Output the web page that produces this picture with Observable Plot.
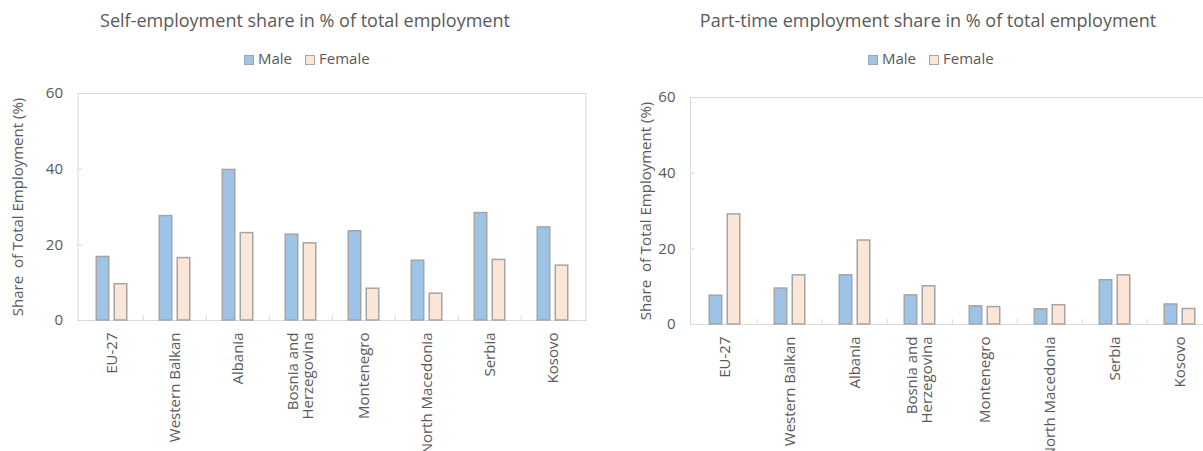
<!DOCTYPE html>
<html>
<head>
<meta charset="utf-8">
<script src="https://cdn.jsdelivr.net/npm/d3@7"></script>
<script src="https://cdn.jsdelivr.net/npm/@observablehq/plot@0.6"></script>
<style>
  html, body { margin: 0; padding: 0; background: #fff; overflow: hidden; }
  #root { position: relative; width: 1203px; height: 451px; overflow: hidden;
          font-family: "Open Sans", sans-serif; color: #595959; }
  .title { position: absolute; top: 11px; font-size: 18px; line-height: 18px;
           white-space: nowrap; transform: translateX(-50%); }
  .sw { position: absolute; top: 55px; width: 8px; height: 8px; border: 1px solid #a5a5a5; box-sizing: content-box; }
  .lt { position: absolute; top: 51px; font-size: 15px; line-height: 15px; white-space: nowrap; }
  .chart { position: absolute; top: 80px; }
  .chart svg { max-width: none !important; }
  svg text { white-space: pre; }
</style>
</head>
<body>
<div id="root"></div>
<script>
// ---- data ----
const countries = ["EU-27", "Western Balkan", "Albania", "Bosnia and\nHerzegovina", "Montenegro", "North Macedonia", "Serbia", "Kosovo"];
const selfMale   = [16.8, 27.6, 39.8, 22.7, 23.6, 15.8, 28.4, 24.6];
const selfFemale = [9.6, 16.5, 23.1, 20.4, 8.4, 7.1, 16.0, 14.5];
const partMale   = [7.6, 9.5, 13.0, 7.7, 4.8, 4.0, 11.7, 5.3];
const partFemale = [29.1, 13.0, 22.2, 10.1, 4.6, 5.1, 13.0, 4.1];
const yTicks = [0, 20, 40, 60];
const seriesNames = ["Male", "Female"];
const titles = ["Self-employment share in % of total employment", "Part-time employment share in % of total employment"];
const yLabel = "Share  of Total Employment (%)";

const colors = {Male: "#9dc3e6", Female: "#fbe5d6"};
const barStroke = "#a5a5a5";
const gridGrey = "#d9d9d9";
const textGrey = "#595959";

function makeChart({male, female, width, ml, mr, mt, mb, labelOffset}) {
  const height = 371;
  const data = countries.map((c, i) => ({country: c, male: male[i], female: female[i]}));
  const bw = (width - ml - mr) / countries.length;
  return Plot.plot({
    width, height,
    marginLeft: ml, marginRight: mr, marginTop: mt, marginBottom: mb,
    style: {fontFamily: '"Open Sans", sans-serif', color: textGrey, background: "transparent", overflow: "visible", maxWidth: "none"},
    x: {domain: countries, padding: 0},
    y: {domain: [0, 60]},
    marks: [
      Plot.frame({stroke: gridGrey}),
      Plot.axisY({ticks: [20, 40], tickSize: 5, text: null, dx: 5, stroke: gridGrey, label: null}),
      Plot.axisX({ticks: countries.slice(1), tickSize: 5, text: null, dx: -bw / 2, dy: -5, stroke: gridGrey, label: null}),
      Plot.barY(data, {x: "country", y: "male", fill: colors.Male, stroke: barStroke, strokeWidth: 1.5,
        insetLeft: bw / 2 - 15.5, insetRight: bw / 2 + 2.5}),
      Plot.barY(data, {x: "country", y: "female", fill: colors.Female, stroke: barStroke, strokeWidth: 1.5,
        insetLeft: bw / 2 + 2.5, insetRight: bw / 2 - 15.5}),
      Plot.axisY({ticks: yTicks, tickSize: 0, tickPadding: 15, fontSize: 15, fill: textGrey,
        label: yLabel, labelAnchor: "center", labelOffset, labelArrow: false}),
      Plot.axisX({tickSize: 0, tickPadding: 12, tickRotate: -90, fontSize: 15, fill: textGrey, label: null})
    ]
  });
}

const root = document.getElementById("root");

function addPanel(offset, titleCenter, spec) {
  const t = document.createElement("div");
  t.className = "title";
  t.style.left = titleCenter + "px";
  t.textContent = spec.title;
  root.appendChild(t);
  const lx = [244, 258, 305, 319];
  seriesNames.forEach((name, i) => {
    const s = document.createElement("div");
    s.className = "sw";
    s.style.left = (offset + lx[i * 2]) + "px";
    s.style.background = colors[name];
    root.appendChild(s);
    const l = document.createElement("div");
    l.className = "lt";
    l.style.left = (offset + lx[i * 2 + 1]) + "px";
    l.textContent = name;
    root.appendChild(l);
  });
  const wrap = document.createElement("div");
  wrap.className = "chart";
  wrap.style.left = spec.left + "px";
  wrap.style.width = spec.width + "px";
  wrap.appendChild(makeChart(spec));
  root.appendChild(wrap);
}

addPanel(0, 305, {title: titles[0], male: selfMale, female: selfFemale, left: 0, width: 600,
  ml: 77.5, mr: 14.5, mt: 13, mb: 131, labelOffset: 66});
addPanel(624, 928, {title: titles[1], male: partMale, female: partFemale, left: 600, width: 630,
  ml: 90, mr: 16, mt: 17, mb: 127, labelOffset: 50});
</script>
</body>
</html>
